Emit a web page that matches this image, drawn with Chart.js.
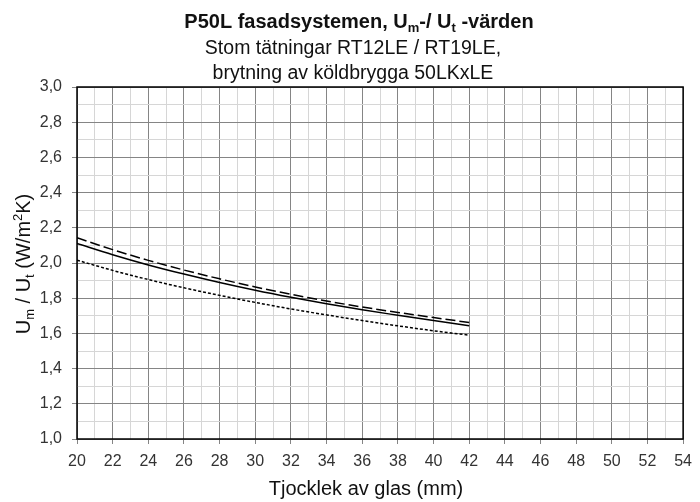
<!DOCTYPE html>
<html>
<head>
<meta charset="utf-8">
<script src="https://cdn.jsdelivr.net/npm/chart.js@4/dist/chart.umd.min.js"></script>
<style>
    body { margin: 0; background: #fff; }
    #wrap { width: 700px; height: 502px; }
</style>
</head>
<body>
<div id="wrap"><canvas id="uChart" width="700" height="502"></canvas></div>
<script>
// Glass thickness (mm) and U values
const thickness = [20, 22, 24, 26, 28, 30, 32, 34, 36, 38, 40, 42];
const uDashed = [2.143, 2.076, 2.015, 1.960, 1.910, 1.864, 1.822, 1.784, 1.750, 1.719, 1.690, 1.662];
const uSolid = [2.111, 2.047, 1.989, 1.937, 1.889, 1.845, 1.805, 1.768, 1.734, 1.703, 1.673, 1.644];
const uDotted = [2.016, 1.958, 1.906, 1.859, 1.816, 1.776, 1.739, 1.705, 1.673, 1.643, 1.615, 1.590];

const FONT = '"Liberation Sans", Arial, sans-serif';

function toPoints(values) {
    return thickness.map((x, i) => ({ x: x, y: values[i] }));
}

// draws text pieces in a row, with sub/superscripts
function drawRich(c, parts, x, y, size, bold, align) {
    const w = parts.reduce((acc, p) => {
        c.font = (bold ? 'bold ' : '') + (p.s ? size * 0.65 : size) + 'px ' + FONT;
        return acc + c.measureText(p.t).width;
    }, 0);
    let cx = align === 'center' ? x - w / 2 : x;
    parts.forEach(p => {
        const sz = p.s ? size * 0.65 : size;
        c.font = (bold ? 'bold ' : '') + sz + 'px ' + FONT;
        let dy = 0;
        if (p.s === 'sub') dy = size * 0.22;
        if (p.s === 'sup') dy = -size * 0.38;
        c.fillText(p.t, cx, y + dy);
        cx += c.measureText(p.t).width;
    });
}

// Titles, axis titles and the frame around the plot
const textPlugin = {
    id: 'textPlugin',
    afterDraw(chart) {
        const c = chart.ctx;
        const area = chart.chartArea;
        c.save();
        c.fillStyle = '#111';
        c.textAlign = 'left';
        c.textBaseline = 'alphabetic';
        drawRich(c, [{ t: 'P50L fasadsystemen, U' }, { t: 'm', s: 'sub' }, { t: '-/ U' }, { t: 't', s: 'sub' }, { t: ' -värden' }], 359, 28, 20, true, 'center');
        drawRich(c, [{ t: 'Stom tätningar RT12LE / RT19LE,' }], 353, 54, 19.5, false, 'center');
        drawRich(c, [{ t: 'brytning av köldbrygga 50LKxLE' }], 353, 79, 19.5, false, 'center');
        drawRich(c, [{ t: 'Tjocklek av glas (mm)' }], 366, 495, 20, false, 'center');

        c.save();
        c.translate(30, 264);
        c.rotate(-Math.PI / 2);
        drawRich(c, [{ t: 'U' }, { t: 'm', s: 'sub' }, { t: ' / U' }, { t: 't', s: 'sub' }, { t: ' (W/m' }, { t: '2', s: 'sup' }, { t: 'K)' }], 0, 0, 20, false, 'center');
        c.restore();

        c.strokeStyle = '#000';
        c.lineWidth = 1.5;
        c.strokeRect(area.left, area.top, area.right - area.left, area.bottom - area.top);
        c.restore();
    }
};

const ctx = document.getElementById('uChart').getContext('2d');
const uChart = new Chart(ctx, {
    type: 'line',
    data: {
        datasets: [{
            data: toPoints(uDashed),
            borderColor: '#000',
            borderWidth: 1.5,
            borderDash: [10, 4],
            pointRadius: 0,
            cubicInterpolationMode: 'monotone'
        }, {
            data: toPoints(uSolid),
            borderColor: '#000',
            borderWidth: 1.5,
            pointRadius: 0,
            cubicInterpolationMode: 'monotone'
        }, {
            data: toPoints(uDotted),
            borderColor: '#000',
            borderWidth: 1.5,
            borderDash: [3, 2],
            pointRadius: 0,
            cubicInterpolationMode: 'monotone'
        }]
    },
    options: {
        responsive: false,
        animation: false,
        layout: { padding: { left: 0, top: 87, right: 14, bottom: 0 } },
        plugins: {
            legend: { display: false },
            title: { display: false },
            tooltip: { enabled: false }
        },
        scales: {
            x: {
                type: 'linear',
                min: 20,
                max: 54,
                afterFit(scale) { scale.height = 63; },
                border: { display: false },
                grid: {
                    tickLength: 5,
                    color: c => (Math.round(c.tick.value) % 2 === 0 ? '#858585' : '#d6d6d6'),
                    tickColor: c => (Math.round(c.tick.value) % 2 === 0 ? '#858585' : 'rgba(0,0,0,0)')
                },
                ticks: {
                    stepSize: 1,
                    autoSkip: false,
                    maxRotation: 0,
                    padding: 8,
                    color: '#333',
                    font: { family: FONT, size: 16 },
                    callback: v => (Math.round(v) % 2 === 0 ? String(Math.round(v)) : '')
                }
            },
            y: {
                min: 1,
                max: 3,
                afterFit(scale) { scale.width = 77; },
                border: { display: false },
                grid: {
                    tickLength: 5,
                    color: c => (Math.round(c.tick.value * 10) % 2 === 0 ? '#858585' : '#d6d6d6'),
                    tickColor: c => (Math.round(c.tick.value * 10) % 2 === 0 ? '#858585' : 'rgba(0,0,0,0)')
                },
                ticks: {
                    stepSize: 0.1,
                    autoSkip: false,
                    padding: 10,
                    color: '#333',
                    font: { family: FONT, size: 16 },
                    callback: v => (Math.round(v * 10) % 2 === 0 ? v.toFixed(1).replace('.', ',') : '')
                }
            }
        }
    },
    plugins: [textPlugin]
});
</script>
</body>
</html>
